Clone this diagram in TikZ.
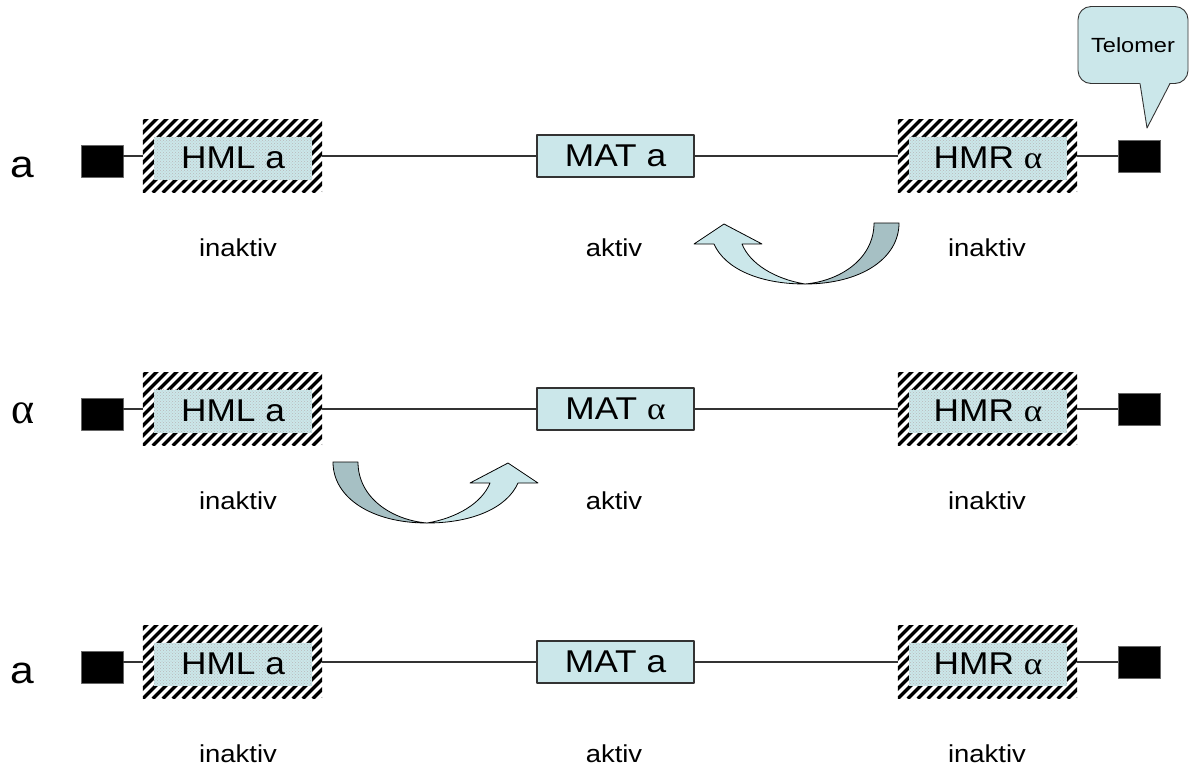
\documentclass[tikz,border=0pt]{standalone}
\usepackage{fontspec}
\setmainfont{Liberation Sans}
\newfontfamily\grk{Liberation Serif}
\usepackage{graphicx}
\usetikzlibrary{patterns,calc}
\definecolor{lb}{RGB}{203,231,234}
\definecolor{db}{RGB}{166,192,196}
\newcommand{\sx}[1]{\scalebox{1.12}[1]{#1}}
\newcommand{\al}{{\grk α}}
\newcommand{\hatchbox}[4]{%
  \node[hatchouter] (#1) at (#2,#3) {};
  \begin{scope}
    \clip (#1.south west) rectangle (#1.north east);
    \foreach \k in {0,...,26}
      \draw[line width=3.4pt] ([xshift=\k*10pt-80pt]#1.south west) -- ++(80,-80);
  \end{scope}
  \node[hatchinner] (#1t) at (#2+0.5,#3+2) {\sx{#4}};
}
\newcommand{\ribbon}[3]{% x, y of bottom point, xscale
  \begin{scope}[shift={(#1,#2)}, xscale=#3]
    \draw[arrowline, fill=db] (-94,-61) .. controls (-94,-25) and (-55,0) .. (0,0)
      .. controls (-35,-3) and (-69,-25) .. (-69,-61) -- cycle;
    \draw[arrowline, fill=lb] (91,-40) .. controls (80,-15) and (45,0) .. (0,0)
      .. controls (30,-5) and (55,-20) .. (63,-40) -- (43,-40) -- (81,-60) -- (111,-40) -- cycle;
  \end{scope}
}
\begin{document}
\begin{tikzpicture}[x=1pt,y=-1pt,line join=round,
  conn/.style={line width=1.3pt, draw=black!80},
  endsq/.style={fill=black, draw=black!60, line width=0.8pt, minimum width=42pt, minimum height=32pt, inner sep=0pt},
  matbox/.style={draw=black!80, line width=1.2pt, fill=lb, minimum width=157pt, minimum height=42pt, inner sep=0pt, font=\fontsize{31.5}{31.5}\selectfont},
  hatchouter/.style={minimum width=179pt, minimum height=73pt, inner sep=0pt},
  hatchinner/.style={fill=lb, postaction={pattern=crosshatch dots, pattern color=black!28}, minimum width=158pt, minimum height=43pt, inner sep=0pt, font=\fontsize{31.5}{31.5}\selectfont},
  lab/.style={font=\fontsize{24.5}{24.5}\selectfont, inner sep=0pt},
  rowlab/.style={font=\fontsize{38}{38}\selectfont, inner sep=0pt, anchor=base},
  arrowline/.style={draw=black, line width=0.8pt}
]
\useasboundingbox (0,0) rectangle (1190,769);

% ---------- row 1 ----------
\node[rowlab] (r1) at (22,177) {\sx{a}};
\node[endsq] (ls1) at (102,161) {};
\hatchbox{hml1}{232.5}{156}{HML a}
\node[matbox] (mat1) at (615.5,156) {\sx{MAT a}};
\hatchbox{hmr1}{987.5}{156}{HMR \al}
\node[endsq] (rs1) at (1139.5,156) {};
\draw[conn] (ls1.east |- hml1) -- (hml1.west);
\draw[conn] (hml1.east) -- (mat1.west);
\draw[conn] (mat1.east) -- (hmr1.west);
\draw[conn] (hmr1.east) -- (rs1.west);
\node[lab] (l1a) at (238,248) {\sx{inaktiv}};
\node[lab] (l1b) at (614,248) {\sx{aktiv}};
\node[lab] (l1c) at (987,248) {\sx{inaktiv}};
\ribbon{805}{284}{-1}

% ---------- row 2 ----------
\node[rowlab] (r2) at (23.5,423) {\fontsize{44}{44}\selectfont\grk α};
\node[endsq] (ls2) at (102,414) {};
\hatchbox{hml2}{232.5}{409}{HML a}
\node[matbox] (mat2) at (615.5,409) {\sx{MAT \al}};
\hatchbox{hmr2}{987.5}{409}{HMR \al}
\node[endsq] (rs2) at (1139.5,409) {};
\draw[conn] (ls2.east |- hml2) -- (hml2.west);
\draw[conn] (hml2.east) -- (mat2.west);
\draw[conn] (mat2.east) -- (hmr2.west);
\draw[conn] (hmr2.east) -- (rs2.west);
\node[lab] (l2a) at (238,501) {\sx{inaktiv}};
\node[lab] (l2b) at (614,501) {\sx{aktiv}};
\node[lab] (l2c) at (987,501) {\sx{inaktiv}};
\ribbon{427}{523}{1}

% ---------- row 3 ----------
\node[rowlab] (r3) at (22,683) {\sx{a}};
\node[endsq] (ls3) at (102,667) {};
\hatchbox{hml3}{232.5}{662}{HML a}
\node[matbox] (mat3) at (615.5,662) {\sx{MAT a}};
\hatchbox{hmr3}{987.5}{662}{HMR \al}
\node[endsq] (rs3) at (1139.5,662) {};
\draw[conn] (ls3.east |- hml3) -- (hml3.west);
\draw[conn] (hml3.east) -- (mat3.west);
\draw[conn] (mat3.east) -- (hmr3.west);
\draw[conn] (hmr3.east) -- (rs3.west);
\node[lab] (l3a) at (238,754) {\sx{inaktiv}};
\node[lab] (l3b) at (614,754) {\sx{aktiv}};
\node[lab] (l3c) at (987,754) {\sx{inaktiv}};

% ---------- Telomer callout ----------
\node[draw=black!80, line width=0.9pt, fill=lb, rounded corners=13pt, minimum width=110pt, minimum height=77pt, inner sep=0pt, font=\fontsize{20.5}{20.5}\selectfont] (telo) at (1133,45) {\scalebox{1.15}[1]{Telomer}};
\coordinate (tip) at (1147,128);
\fill[lb] (1139.6,81.5) -- (tip) -- (1170.4,81.5) -- cycle;
\draw[black!80, line width=0.9pt] (1140,83.5) -- (tip) -- (1170,83.5);
\end{tikzpicture}
\end{document}
